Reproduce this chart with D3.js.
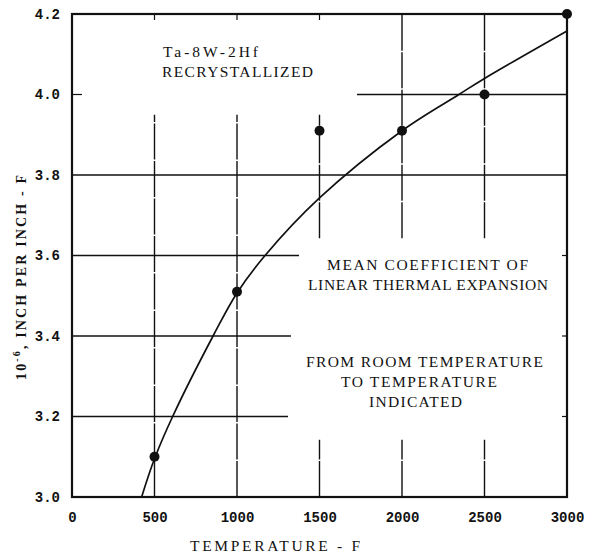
<!DOCTYPE html>
<html>
<head>
<meta charset="utf-8">
<script src="https://cdn.jsdelivr.net/npm/d3@7"></script>
<style>
  html, body { margin: 0; padding: 0; background: #fff; }
  svg { display: block; }
  .tick text { font-family: "Liberation Mono", monospace; font-weight: bold; font-size: 14px; fill: #111; }
  .note { font-family: "Liberation Serif", serif; font-size: 15.5px; fill: #111; }
</style>
</head>
<body>
<svg id="chart" width="591" height="557"></svg>
<script>
// Measured mean coefficient of linear thermal expansion, Ta-8W-2Hf
const temperatures = [500, 1000, 1500, 2000, 2500, 3000];
const coefficients = [3.10, 3.51, 3.91, 3.91, 4.00, 4.20];

// Faired curve through the measurements
const curveTemps  = [422, 500, 610, 855, 1000, 1170, 1500, 2000, 2345, 2500, 3000];
const curveValues = [3.00, 3.095, 3.20, 3.40, 3.507, 3.60, 3.743, 3.91, 4.00, 4.04, 4.158];

// Axis ticks
const xTicks = [0, 500, 1000, 1500, 2000, 2500, 3000];
const yTicks = [3.0, 3.2, 3.4, 3.6, 3.8, 4.0, 4.2];
const yTickLabels = ["3.0", "3.2", "3.4", "3.6", "3.8", "4.0", "4.2"];

// Grid rules, broken where the notes sit (data units)
const hGridLevels = [3.2, 3.4, 3.6, 3.8, 4.0];
const hGridFrom   = [0, 0, 0, 0, 1727];
const hGridTo     = [1309, 1327, 1376, 3000, 3000];
const vGridTemps  = [500, 1000, 1500, 2000, 2500, 1500, 2000, 2500];
const vGridFrom   = [3.0, 3.0, 3.643, 3.643, 3.643, 3.0, 3.0, 3.0];
const vGridTo     = [3.95, 3.95, 3.95, 4.2, 4.2, 3.142, 3.142, 3.142];

const svg = d3.select("#chart");
const x = d3.scaleLinear().domain([0, 3000]).range([72, 567]);
const y = d3.scaleLinear().domain([3.0, 4.2]).range([497, 14]);

// grid
const grid = svg.append("g").attr("stroke", "#111").attr("fill", "none");
hGridLevels.forEach((v, i) => {
  grid.append("line")
    .attr("x1", x(hGridFrom[i])).attr("x2", x(hGridTo[i]))
    .attr("y1", y(v)).attr("y2", y(v))
    .attr("stroke-width", 1.5);
});
vGridTemps.forEach((t, i) => {
  grid.append("line")
    .attr("x1", x(t)).attr("x2", x(t))
    .attr("y1", y(vGridFrom[i])).attr("y2", y(vGridTo[i]))
    .attr("stroke-width", 1.4)
    .attr("stroke-dasharray", "36,1.5");
});

// short edge ticks where rules stop short of the frame
[500, 1000, 1500].forEach(t => {
  grid.append("line").attr("x1", x(t)).attr("x2", x(t))
    .attr("y1", y(4.2)).attr("y2", y(4.2) + 6).attr("stroke-width", 1.2);
});
grid.append("line").attr("x1", x(0)).attr("x2", x(0) + 10)
  .attr("y1", y(4.0)).attr("y2", y(4.0)).attr("stroke-width", 1.2);
[3.2, 3.4, 3.6].forEach(v => {
  grid.append("line").attr("x1", x(3000) - 5).attr("x2", x(3000))
    .attr("y1", y(v)).attr("y2", y(v)).attr("stroke-width", 1.2);
});

// frame
svg.append("rect")
  .attr("x", x(0)).attr("y", y(4.2))
  .attr("width", x(3000) - x(0)).attr("height", y(3.0) - y(4.2))
  .attr("fill", "none").attr("stroke", "#111").attr("stroke-width", 2.2);

// axes (labels only)
const xAxis = svg.append("g").attr("transform", `translate(0,${y(3.0)})`)
  .call(d3.axisBottom(x).tickValues(xTicks).tickSize(0).tickPadding(15).tickFormat(d3.format("d")));
xAxis.select(".domain").remove();

const yAxis = svg.append("g").attr("transform", `translate(${x(0) - 1},0)`)
  .call(d3.axisLeft(y).tickValues(yTicks).tickSize(0).tickPadding(11)
    .tickFormat((d, i) => yTickLabels[i]));
yAxis.select(".domain").remove();

// faired curve
const line = d3.line().x(d => x(d[0])).y(d => y(d[1])).curve(d3.curveCatmullRom.alpha(0.5));
svg.append("path")
  .datum(curveTemps.map((t, i) => [t, curveValues[i]]))
  .attr("d", line)
  .attr("fill", "none").attr("stroke", "#111").attr("stroke-width", 1.7);

// data points
svg.append("g").selectAll("circle")
  .data(temperatures.map((t, i) => [t, coefficients[i]]))
  .join("circle")
  .attr("cx", d => x(d[0])).attr("cy", d => y(d[1]))
  .attr("r", 5).attr("fill", "#111");

// notes
const notes = [
  { text: "Ta-8W-2Hf", x: 163, y: 57, len: 95 },
  { text: "RECRYSTALLIZED", x: 162, y: 77, len: 151 },
  { text: "MEAN COEFFICIENT OF", x: 327, y: 270, len: 201 },
  { text: "LINEAR THERMAL EXPANSION", x: 308, y: 290, len: 240 },
  { text: "FROM ROOM TEMPERATURE", x: 306, y: 367, len: 237 },
  { text: "TO TEMPERATURE", x: 341, y: 387, len: 156 },
  { text: "INDICATED", x: 369, y: 407, len: 93 }
];
svg.append("g").selectAll("text")
  .data(notes).join("text")
  .attr("class", "note")
  .attr("x", d => d.x).attr("y", d => d.y)
  .attr("textLength", d => d.len).attr("lengthAdjust", "spacing")
  .text(d => d.text);

// axis titles
svg.append("text")
  .attr("class", "note")
  .attr("x", 190).attr("y", 551)
  .attr("textLength", 170).attr("lengthAdjust", "spacing")
  .text("TEMPERATURE - F");

const yt = svg.append("text")
  .attr("class", "note")
  .attr("transform", "translate(26,380) rotate(-90)")
  .attr("x", 0).attr("y", 0)
  .style("font-size", "14px").style("font-weight", "bold");
yt.append("tspan").text("10");
yt.append("tspan").attr("dy", -6).style("font-size", "10px").text("-6");
yt.append("tspan").attr("dy", 6).text(", INCH PER INCH - F");
yt.attr("textLength", 205).attr("lengthAdjust", "spacing");
</script>
</body>
</html>
